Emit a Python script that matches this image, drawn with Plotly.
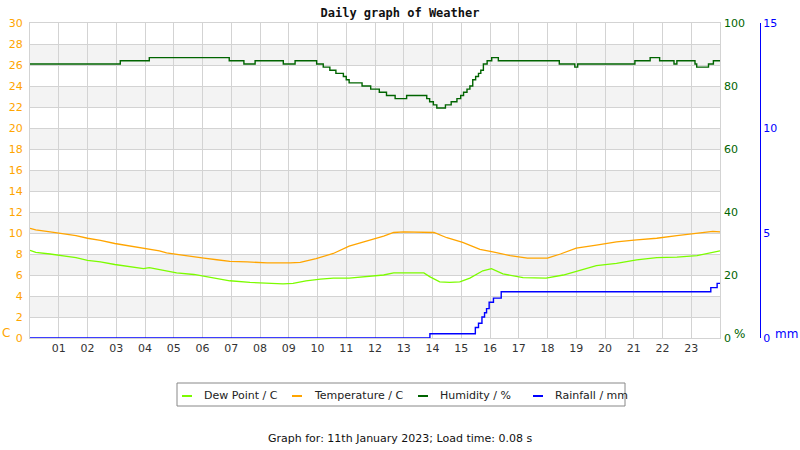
import plotly.graph_objects as go

# ---------------- data ----------------
temp_h = [0.0, 0.2, 0.7, 1.15, 1.6, 2.0, 2.45, 2.95, 3.4, 3.95, 4.5, 4.75, 5.45, 6.05, 6.5,
          6.95, 7.55, 8.25, 9.05, 9.4, 9.95, 10.55, 11.1, 11.85, 12.3, 12.65, 13.0, 14.05,
          14.5, 15.05, 15.65, 16.1, 16.7, 17.3, 18.0, 18.45, 19.0, 19.7, 20.4, 21.1, 21.8,
          22.5, 23.2, 23.75, 24.0]
temp_c = [10.45, 10.3, 10.1, 9.95, 9.75, 9.5, 9.3, 9.0, 8.8, 8.55, 8.3, 8.1, 7.8, 7.6, 7.45,
          7.3, 7.25, 7.15, 7.15, 7.2, 7.55, 8.05, 8.75, 9.3, 9.7, 10.05, 10.1, 10.05,
          9.55, 9.1, 8.45, 8.2, 7.85, 7.6, 7.6, 8.0, 8.55, 8.85, 9.15, 9.35, 9.5,
          9.75, 9.95, 10.15, 10.1]

dew_h = [0.0, 0.2, 0.7, 1.15, 1.6, 2.0, 2.45, 2.95, 3.4, 3.95, 4.15, 4.5, 5.1, 5.7, 6.4,
         6.95, 7.65, 8.25, 8.8, 9.15, 9.6, 10.1, 10.55, 11.1, 11.85, 12.3, 12.65, 13.2,
         13.7, 13.9, 14.25, 14.6, 14.95, 15.3, 15.75, 16.05, 16.45, 17.15, 17.95, 18.55,
         19.15, 19.7, 20.4, 21.1, 21.8, 22.5, 23.2, 23.75, 24.0]
dew_c = [8.35, 8.15, 8.0, 7.85, 7.65, 7.4, 7.25, 7.0, 6.85, 6.6, 6.7, 6.5, 6.2, 6.05, 5.75,
         5.45, 5.3, 5.25, 5.15, 5.2, 5.45, 5.6, 5.7, 5.7, 5.85, 6.0, 6.2, 6.2,
         6.2, 5.85, 5.35, 5.3, 5.35, 5.7, 6.4, 6.6, 6.1, 5.75, 5.7, 6.0,
         6.5, 6.9, 7.1, 7.45, 7.65, 7.7, 7.85, 8.2, 8.3]

hum_h = [0.0, 3.14, 4.15, 6.93, 7.44, 7.83, 8.81, 9.22, 9.97, 10.2, 10.43, 10.64, 10.9, 11.0,
         11.1, 11.55, 11.85, 12.15, 12.4, 12.7, 13.1, 13.8, 13.9, 14.03, 14.15, 14.45, 14.65,
         14.85, 14.98, 15.08, 15.2, 15.3, 15.4, 15.5, 15.6, 15.68, 15.77, 15.9, 16.06, 16.29,
         18.41, 18.95, 19.05, 21.04, 21.57, 21.9, 22.4, 22.5, 23.13, 23.19, 23.6, 23.77, 24.0]
hum_pct = [87, 88, 89, 88, 87, 88, 87, 88, 87, 86, 85, 84, 83, 82,
           81, 80, 79, 78, 77, 76, 77, 76, 75, 74, 73, 74, 75,
           76, 77, 78, 79, 80, 82, 83, 84, 85, 87, 88, 89, 88,
           87, 86, 87, 88, 89, 88, 87, 88, 87, 86, 87, 88, 88]

rain_h = [0.0, 13.91, 15.49, 15.6, 15.72, 15.81, 15.88, 15.97, 16.12, 16.39, 23.68, 23.9, 24.0]
rain_mm = [0.0, 0.2, 0.5, 0.7, 1.0, 1.2, 1.4, 1.7, 1.9, 2.2, 2.4, 2.6, 2.6]

hour_ticks = list(range(1, 24))
hour_labels = [f"{h:02d}" for h in hour_ticks]

series_names = ["Dew Point / C", "Temperature / C", "Humidity / %", "Rainfall / mm"]

# ---------------- styles ----------------
C_DEW = "#7cfc00"
C_TEMP = "#ffa500"
C_HUM = "#006400"
C_RAIN = "#0000ff"
GRID = "#d3d3d3"
BAND = "#f3f3f3"
FONT = "DejaVu Sans"

W, H = 800, 450
L, R, T, B = 30, 0, 23, 112
plot_right = 720
paper_w = W - L - R
plot_h = H - T - B


def px(xp):
    return (xp - L) / paper_w


def py(yp):
    return (H - B - yp) / plot_h


fig = go.Figure()
fig.add_trace(go.Scatter(x=dew_h, y=dew_c, mode="lines", name=series_names[0],
                         line=dict(color=C_DEW, width=1.3), hoverinfo="skip"))
fig.add_trace(go.Scatter(x=temp_h, y=temp_c, mode="lines", name=series_names[1],
                         line=dict(color=C_TEMP, width=1.3), hoverinfo="skip"))
fig.add_trace(go.Scatter(x=hum_h, y=hum_pct, mode="lines", yaxis="y2", line_shape="hv",
                         name=series_names[2], line=dict(color=C_HUM, width=1.4), hoverinfo="skip"))
fig.add_trace(go.Scatter(x=rain_h, y=rain_mm, mode="lines", yaxis="y3", line_shape="hv",
                         name=series_names[3], line=dict(color=C_RAIN, width=1.4), hoverinfo="skip"))

# background bands
shapes = []
for lo in range(2, 28, 4):
    shapes.append(dict(type="rect", xref="x domain", x0=0, x1=1, yref="y", y0=lo, y1=lo + 2,
                       fillcolor=BAND, line=dict(width=0), layer="below"))

# legend drawn as a box with short line keys
annotations = []
shapes.append(dict(type="rect", xref="paper", yref="paper", x0=px(177), x1=px(625),
                   y0=py(383), y1=py(406), line=dict(color="#888888", width=1),
                   fillcolor="white", layer="above"))
legend_key_x = [182, 292, 418, 533]
for name, col, kx in zip(series_names, [C_DEW, C_TEMP, C_HUM, C_RAIN], legend_key_x):
    shapes.append(dict(type="line", xref="paper", yref="paper", x0=px(kx), x1=px(kx + 10),
                       y0=py(396), y1=py(396), line=dict(color=col, width=2)))
    annotations.append(dict(text=name, x=px(kx + 20), y=py(395), xref="paper", yref="paper",
                            showarrow=False, xanchor="left", yanchor="middle",
                            font=dict(size=11, color="#222")))

annotations += [
    dict(text="C", x=px(6), y=py(333), xref="paper", yref="paper", showarrow=False,
         xanchor="center", yanchor="middle", font=dict(size=12, color=C_TEMP)),
    dict(text="%", x=px(739), y=py(334), xref="paper", yref="paper", showarrow=False,
         xanchor="center", yanchor="middle", font=dict(size=12, color=C_HUM)),
    dict(text="mm", x=px(786), y=py(334), xref="paper", yref="paper", showarrow=False,
         xanchor="center", yanchor="middle", font=dict(size=12, color=C_RAIN)),
    dict(text="Graph for: 11th January 2023; Load time: 0.08 s", x=px(400), y=py(438),
         xref="paper", yref="paper", showarrow=False, xanchor="center", yanchor="middle",
         font=dict(size=11, color="#111")),
]

fig.update_layout(
    width=W, height=H,
    margin=dict(l=L, r=R, t=T, b=B),
    paper_bgcolor="white", plot_bgcolor="white",
    font=dict(family=FONT, size=11, color="#222"),
    title=dict(text="Daily graph of Weather", x=0.5, xref="container", xanchor="center",
               y=1 - 13 / H, yanchor="middle", yref="container",
               font=dict(family="DejaVu Sans Mono", size=12, color="#111", weight="bold")),
    xaxis=dict(domain=[0, (plot_right - L) / paper_w], range=[0, 24], tickvals=hour_ticks,
               ticktext=hour_labels, showgrid=True, gridcolor=GRID, gridwidth=1,
               showline=True, mirror=True, linecolor=GRID, ticks="", zeroline=False,
               tickfont=dict(size=11, color="#333")),
    yaxis=dict(range=[0, 30], tick0=0, dtick=2, showgrid=True, gridcolor=GRID, gridwidth=1,
               showline=True, mirror=True, linecolor=GRID, ticks="", zeroline=False,
               ticklabelstandoff=4, tickfont=dict(size=11, color=C_TEMP)),
    yaxis2=dict(overlaying="y", side="right", anchor="x", range=[0, 100], tick0=0, dtick=20,
                showgrid=False, zeroline=False, ticks="", showline=False, ticklabelstandoff=3,
                tickfont=dict(size=11, color=C_HUM)),
    yaxis3=dict(overlaying="y", side="right", anchor="free", position=px(760), range=[0, 15],
                tick0=0, dtick=5, showgrid=False, zeroline=False, ticks="", showline=True,
                linecolor=C_RAIN, linewidth=1, tickfont=dict(size=11, color=C_RAIN)),
    shapes=shapes,
    annotations=annotations,
    showlegend=False,
)

fig.write_html("out.html")
